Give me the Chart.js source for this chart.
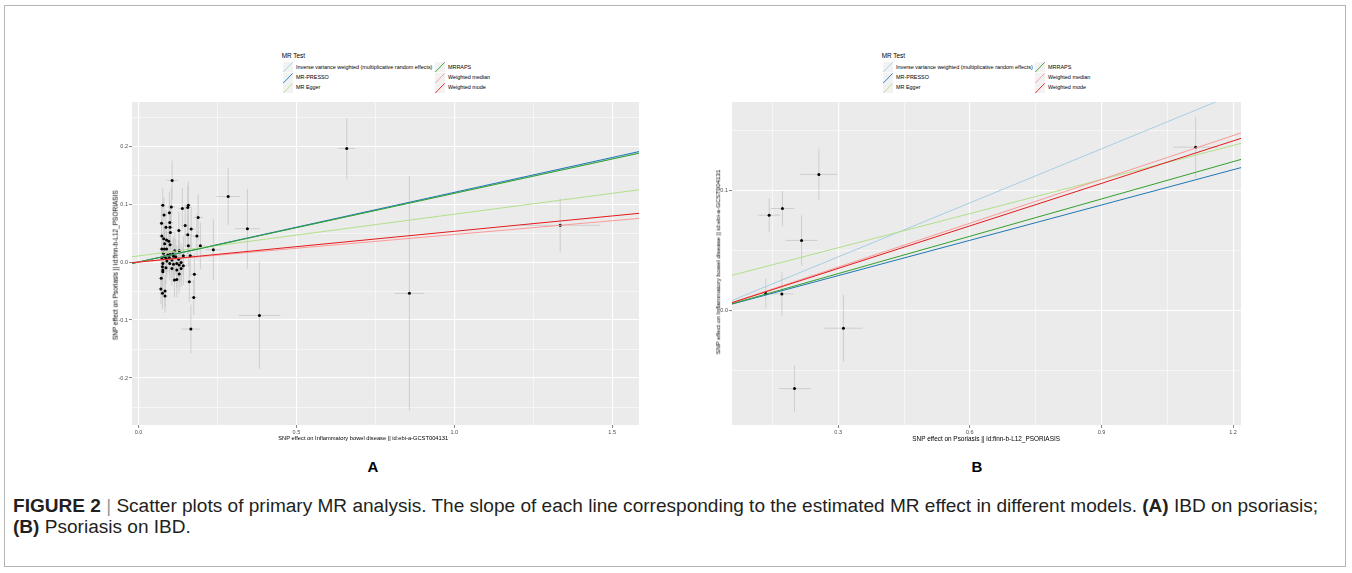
<!DOCTYPE html>
<html><head><meta charset="utf-8">
<script src="https://cdn.jsdelivr.net/npm/chart.js@4.4.1/dist/chart.umd.min.js"></script>
<style>
html,body{margin:0;padding:0;background:#fff;width:1352px;height:573px;overflow:hidden;font-family:"Liberation Sans",Arial,sans-serif;}
.abs{position:absolute;white-space:nowrap;line-height:1;}
#frame{position:absolute;left:4px;top:5px;width:1342px;height:562px;border:1px solid #b5b5b5;box-sizing:border-box;}
canvas{position:absolute;}
svg{position:absolute;}
</style></head><body>
<div id="frame"></div>
<canvas id="chartA" width="545" height="351" style="left:102px;top:94px;width:545px;height:351px;"></canvas>
<canvas id="chartB" width="547" height="351" style="left:702px;top:94px;width:547px;height:351px;"></canvas>
<script>
// ---------- data ----------
const methods = ["Inverse variance weighted (multiplicative random effects)", "MR-PRESSO", "MR Egger", "MRRAPS", "Weighted median", "Weighted mode"];

// Panel A: IBD (exposure) -> Psoriasis (outcome)
const aInterceptA = [0, 0, 0.0105, 0, 0, 0];
const aSlope = [0.119, 0.1202, 0.072, 0.1184, 0.0475, 0.053];
const aX = [0.1066,0.284,0.345,0.237,0.383,0.166,0.175,0.6595,0.858,1.3355,
  0.077,0.104,0.139,0.158,0.156,0.081,0.098,0.189,0.073,0.099,
  0.087,0.100,0.148,0.167,0.128,0.101,0.074,0.156,0.185,0.080,
  0.089,0.096,0.083,0.100,0.158,0.196,0.074,0.082,0.089,0.115,
  0.129,0.079,0.100,0.093,0.109,0.082,0.111,0.118,0.142,0.074,
  0.088,0.098,0.127,0.164,0.090,0.106,0.135,0.077,0.099,0.1215,
  0.111,0.129,0.142,0.076,0.087,0.106,0.135,0.077,0.077,0.1215,
  0.129,0.072,0.114,0.1215,0.161,0.177,0.071,0.084,0.076,0.084];
const aY = [0.1408,0.113,0.0574,0.0212,-0.092,-0.1155,-0.061,0.196,-0.054,0.0633,
  0.098,0.095,0.0925,0.098,0.094,0.081,0.085,0.077,0.0667,0.068,
  0.060,0.060,0.063,0.057,0.0546,0.051,0.0448,0.047,0.0448,0.040,
  0.038,0.036,0.0316,0.030,0.028,0.028,0.0224,0.0224,0.0224,0.0195,
  0.0195,0.015,0.013,0.012,0.0138,0.009,0.010,0.009,0.011,0.0069,
  0.0063,0.0074,0.005,0.011,0.0017,0.0034,-0.0006,-0.0023,-0.0023,-0.0023,
  -0.004,-0.005,-0.0064,-0.008,-0.0098,-0.011,-0.011,-0.0138,-0.0167,-0.0138,
  -0.0207,-0.028,-0.031,-0.030,-0.034,-0.0212,-0.0466,-0.050,-0.054,-0.0586];
const aXse = [0.018,0.036,0.040,0.025,0.066,0.029,0.012,0.027,0.0475,0.1266,
  0.010,0.012,0.012,0.010,0.013,0.010,0.011,0.014,0.009,0.011,
  0.010,0.011,0.013,0.012,0.011,0.010,0.009,0.012,0.014,0.009,
  0.010,0.010,0.009,0.010,0.012,0.015,0.008,0.009,0.009,0.011,
  0.011,0.009,0.010,0.009,0.010,0.008,0.010,0.011,0.012,0.008,
  0.009,0.010,0.011,0.013,0.009,0.010,0.011,0.008,0.009,0.011,
  0.010,0.011,0.012,0.008,0.009,0.010,0.011,0.008,0.008,0.011,
  0.011,0.008,0.010,0.011,0.012,0.013,0.008,0.009,0.008,0.009];
const aYse = [0.034,0.049,0.069,0.053,0.0925,0.0417,0.030,0.053,0.202,0.0466,
  0.030,0.032,0.035,0.040,0.038,0.030,0.036,0.040,0.028,0.034,
  0.030,0.033,0.037,0.036,0.032,0.030,0.028,0.034,0.038,0.027,
  0.029,0.031,0.028,0.030,0.035,0.040,0.027,0.029,0.028,0.032,
  0.033,0.027,0.030,0.029,0.031,0.028,0.030,0.031,0.034,0.026,
  0.028,0.029,0.032,0.036,0.028,0.030,0.033,0.027,0.029,0.031,
  0.030,0.032,0.033,0.027,0.028,0.030,0.032,0.027,0.028,0.031,
  0.032,0.027,0.030,0.031,0.035,0.036,0.026,0.028,0.027,0.029];
const aXTicks = [0, 0.5, 1.0, 1.5];
const aXTickLabels = ["0.0", "0.5", "1.0", "1.5"];
const aXMinor = [0.25, 0.75, 1.25];
const aYTicks = [-0.2, -0.1, 0.0, 0.1, 0.2];
const aYTickLabels = ["-0.2", "-0.1", "0.0", "0.1", "0.2"];
const aYMinor = [-0.25, -0.15, -0.05, 0.05, 0.15, 0.25];
const aXRange = [-0.0205, 1.585];
const aYRange = [-0.281, 0.276];
const aXTitle = "SNP effect on Inflammatory bowel disease || id:ebi-a-GCST004131";
const aYTitle = "SNP effect on Psoriasis || id:finn-b-L12_PSORIASIS";

// Panel B: Psoriasis (exposure) -> IBD (outcome)
const bIntercept = [0, 0, 0.0242, 0, 0, 0];
const bSlope = [0.150, 0.098, 0.0947, 0.1036, 0.1217, 0.118];
const bX = [0.1427, 0.173, 0.256, 0.2165, 0.135, 0.1716, 0.312, 0.2005, 1.1146];
const bY = [0.0797, 0.0853, 0.1137, 0.0587, 0.0145, 0.0142, -0.0144, -0.0647, 0.1364];
const bXse = [0.025, 0.027, 0.042, 0.036, 0.008, 0.026, 0.044, 0.036, 0.051];
const bYse = [0.0142, 0.0146, 0.0215, 0.021, 0.0125, 0.018, 0.028, 0.0195, 0.0253];
const bXTicks = [0.3, 0.6, 0.9, 1.2];
const bXTickLabels = ["0.3", "0.6", "0.9", "1.2"];
const bXMinor = [0.15, 0.45, 0.75, 1.05];
const bYTicks = [0.0, 0.1];
const bYTickLabels = ["0.0", "0.1"];
const bYMinor = [-0.05, 0.05, 0.15];
const bXRange = [0.058, 1.218];
const bYRange = [-0.095, 0.174];
const bXTitle = "SNP effect on Psoriasis || id:finn-b-L12_PSORIASIS";
const bYTitle = "SNP effect on Inflammatory bowel disease || id:ebi-a-GCST004131";

const legendTitle = "MR Test";
const captionBold = "FIGURE 2";
const captionText = " Scatter plots of primary MR analysis. The slope of each line corresponding to the estimated MR effect in different models. ";
const panelLabels = ["A", "B"];

// ---------- styles ----------
const methodColors = ["#a6cee3", "#1f78b4", "#b2df8a", "#33a02c", "#fb9a99", "#e31a1c"];

Chart.defaults.font.family = '"Liberation Sans", Arial, sans-serif';

function near(v, arr){ return arr.some(m => Math.abs(m - v) < 1e-9); }

function axisCfg(range, major, labels, minor, isX){
  const all = major.concat(minor).sort((p,q)=>p-q);
  return {
    type: 'linear', min: range[0], max: range[1],
    afterBuildTicks: ax => { ax.ticks = all.map(v => ({value: v})); },
    afterFit: s => { if(isX) s.height = 20; else s.width = 30; },
    border: {display: false},
    grid: {
      color: '#ffffff',
      lineWidth: c => (c.tick && near(c.tick.value, major)) ? 1.1 : 0.55,
      drawTicks: true, tickLength: 3,
      tickColor: c => (c.tick && near(c.tick.value, major)) ? '#4d4d4d' : 'rgba(0,0,0,0)',
      tickWidth: 0.7
    },
    ticks: {
      autoSkip: false, maxRotation: 0, padding: 1,
      color: '#4d4d4d', font: {size: 5.5},
      callback: v => { const i = major.findIndex(m => Math.abs(m - v) < 1e-9); return i >= 0 ? labels[i] : ''; }
    }
  };
}

const bgPlugin = {id:'panelBg', beforeDraw(chart){
  const {ctx, chartArea:a} = chart; ctx.save(); ctx.fillStyle = '#ebebeb';
  ctx.fillRect(a.left, a.top, a.right - a.left, a.bottom - a.top); ctx.restore();
}};

function errPlugin(xs, ys, sxs, sys){
  return {id:'errbars', beforeDatasetsDraw(chart){
    const {ctx, chartArea:a, scales} = chart; const x = scales.x, y = scales.y;
    ctx.save(); ctx.beginPath(); ctx.rect(a.left, a.top, a.right - a.left, a.bottom - a.top); ctx.clip();
    ctx.strokeStyle = '#c6c6c6'; ctx.lineWidth = 0.8;
    for(let i = 0; i < xs.length; i++){
      const px = x.getPixelForValue(xs[i]), py = y.getPixelForValue(ys[i]);
      ctx.beginPath();
      ctx.moveTo(px, y.getPixelForValue(ys[i] - sys[i])); ctx.lineTo(px, y.getPixelForValue(ys[i] + sys[i]));
      ctx.moveTo(x.getPixelForValue(xs[i] - sxs[i]), py); ctx.lineTo(x.getPixelForValue(xs[i] + sxs[i]), py);
      ctx.stroke();
    }
    ctx.restore();
  }};
}

function makeChart(id, p){
  const lineSets = methods.map((m, i) => ({
    label: m, showLine: true, pointRadius: 0, borderWidth: 1.0,
    borderColor: methodColors[i], backgroundColor: methodColors[i],
    order: methods.length - i,
    data: [p.xRange[0], p.xRange[1]].map(xv => ({x: xv, y: p.icpt[i] + p.slope[i] * xv}))
  }));
  const pts = {label: 'SNPs', data: p.x.map((v, i) => ({x: v, y: p.y[i]})),
    pointRadius: 1.5, pointBackgroundColor: '#000', pointBorderWidth: 0, showLine: false, order: 20};
  return new Chart(document.getElementById(id), {
    type: 'scatter',
    data: {datasets: [pts].concat(lineSets)},
    options: {
      responsive: false, animation: false, devicePixelRatio: 1,
      layout: {padding: {left: 0, top: 8, right: 8, bottom: 0}},
      plugins: {legend: {display: false}, tooltip: {enabled: false}},
      scales: {
        x: axisCfg(p.xRange, p.xTicks, p.xLabels, p.xMinor, true),
        y: axisCfg(p.yRange, p.yTicks, p.yLabels, p.yMinor, false)
      }
    },
    plugins: [bgPlugin, errPlugin(p.x, p.y, p.xse, p.yse)]
  });
}

makeChart('chartA', {x: aX, y: aY, xse: aXse, yse: aYse, icpt: aInterceptA, slope: aSlope,
  xRange: aXRange, yRange: aYRange, xTicks: aXTicks, xLabels: aXTickLabels, xMinor: aXMinor,
  yTicks: aYTicks, yLabels: aYTickLabels, yMinor: aYMinor});
makeChart('chartB', {x: bX, y: bY, xse: bXse, yse: bYse, icpt: bIntercept, slope: bSlope,
  xRange: bXRange, yRange: bYRange, xTicks: bXTicks, xLabels: bXTickLabels, xMinor: bXMinor,
  yTicks: bYTicks, yLabels: bYTickLabels, yMinor: bYMinor});

// ---------- text ----------
function addText(html, o){
  const el = document.createElement('div');
  el.className = 'abs'; el.innerHTML = html;
  el.style.fontSize = '10px'; el.style.color = o.color || '#000';
  if(o.bold) el.style.fontWeight = 'bold';
  document.body.appendChild(el);
  let size = o.size;
  if(!size){ size = 10 * o.w / el.getBoundingClientRect().width; }
  el.style.fontSize = size + 'px';
  const r = el.getBoundingClientRect(); const w = r.width, h = r.height;
  if(o.rot){
    el.style.left = (o.cx - w / 2) + 'px'; el.style.top = (o.cy - h / 2) + 'px';
    el.style.transform = 'rotate(-90deg)'; el.style.transformOrigin = '50% 50%';
  } else {
    el.style.left = (o.anchor === 'center' ? o.x - w / 2 : o.x) + 'px';
    el.style.top = (o.cy - h / 2) + 'px';
  }
  return size;
}
function esc(s){ return s.replace(/&/g,'&amp;').replace(/</g,'&lt;'); }

// axis titles
addText(esc(aXTitle), {x: 278.3, cy: 439, w: 170});
addText(esc(aYTitle), {cx: 115.5, cy: 265, w: 150, rot: true});
addText(esc(bXTitle), {x: 912.3, cy: 439, w: 148});
addText(esc(bYTitle), {cx: 718, cy: 262.5, w: 185, rot: true});

// legends
function legend(x0, labelW, col2x){
  addText(legendTitle, {x: x0, cy: 56, w: 23.3});
  let fs = null;
  const rows = [62.3, 72.6, 82.9];
  methods.forEach((m, i) => {
    const col = Math.floor(i / 3), row = i % 3;
    const kx = col === 0 ? x0 + 1.3 : col2x;
    const ky = rows[row];
    const svg = document.createElementNS('http://www.w3.org/2000/svg', 'svg');
    svg.setAttribute('width', '10'); svg.setAttribute('height', '10.3');
    svg.style.left = kx + 'px'; svg.style.top = ky + 'px';
    svg.innerHTML = '<rect x="0" y="0" width="10" height="10.3" fill="#f2f2f2"/>' +
      '<line x1="0.3" y1="10" x2="9.7" y2="0.3" stroke="' + methodColors[i] + '" stroke-width="0.9"/>';
    document.body.appendChild(svg);
    const lx = kx + 13;
    if(i === 0) fs = addText(esc(m), {x: lx, cy: ky + 5.2, w: labelW});
    else addText(esc(m), {x: lx, cy: ky + 5.2, size: fs});
  });
}
legend(281.7, 136.7, 435);
legend(881.7, 137.3, 1035);

// panel letters
addText(panelLabels[0], {x: 373, cy: 466, size: 15, bold: true, anchor: 'center'});
addText(panelLabels[1], {x: 977, cy: 466, size: 15, bold: true, anchor: 'center'});

// caption
const capFs = addText('<b>' + captionBold + '</b> <span style="color:#9a9a9a">|</span>' + esc(captionText) + '<b>(A)</b> IBD on psoriasis;',
  {x: 13, cy: 506, w: 1306, color: '#231f20'});
addText('<b>(B)</b> Psoriasis on IBD.', {x: 13, cy: 527, size: capFs, color: '#231f20'});
</script>
</body></html>
